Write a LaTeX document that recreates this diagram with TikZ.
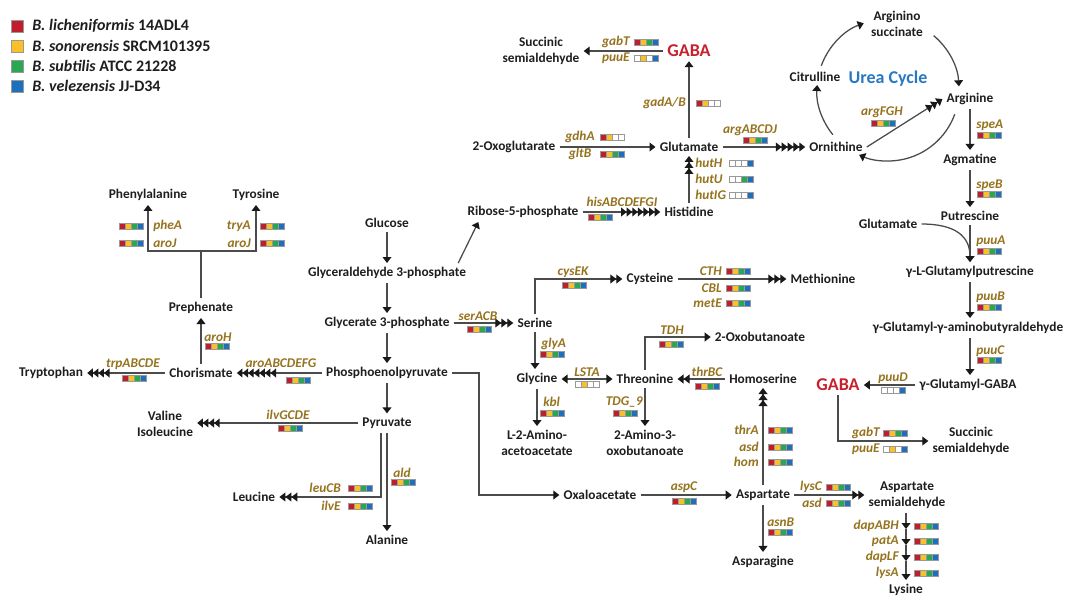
\documentclass[tikz,border=0pt]{standalone}
\usepackage{fontspec}
\setmainfont{Carlito}
\usetikzlibrary{arrows.meta,calc}
\definecolor{cR}{RGB}{192,30,45}
\definecolor{cY}{RGB}{250,192,40}
\definecolor{cG}{RGB}{40,168,80}
\definecolor{cB}{RGB}{28,112,190}
\definecolor{txt}{RGB}{30,30,30}
\definecolor{genec}{RGB}{150,115,30}
\definecolor{gabac}{RGB}{200,32,45}
\definecolor{ureac}{RGB}{40,120,195}
\definecolor{linec}{RGB}{75,75,75}
\definecolor{tipc}{RGB}{25,25,25}
\tikzset{
  boxc/.style={draw=gray!80, line width=0.4pt},
  pics/gb/.style n args={4}{code={
    \draw[boxc, fill=#1] (0,-3.1) rectangle (6,3.1);
    \draw[boxc, fill=#2] (6,-3.1) rectangle (12,3.1);
    \draw[boxc, fill=#3] (12,-3.1) rectangle (18,3.1);
    \draw[boxc, fill=#4] (18,-3.1) rectangle (24,3.1);
  }},
}
\begin{document}
\begin{tikzpicture}[x=0.75pt,y=-0.75pt,
  mn/.style={font=\bfseries\fontsize{10}{12}\selectfont, text=txt, inner sep=3pt, align=center},
  ga/.style={font=\bfseries\fontsize{13.5}{15}\selectfont, text=gabac, inner sep=3pt},
  gene/.style={font=\bfseries\itshape\fontsize{10}{12}\selectfont, text=genec, inner sep=0pt},
  leg/.style={font=\bfseries\fontsize{12}{14}\selectfont, text=txt, inner sep=0pt, anchor=west},
  con/.style={draw=linec, line width=0.95pt},
  a1/.style={con,-{Triangle[length=4.5pt,width=6.6pt,sep=0pt,color=tipc]}},
  a2/.style={con,-{Triangle[length=4.5pt,width=6.6pt,sep=0pt,color=tipc]Triangle[length=4.5pt,width=6.6pt,sep=0pt,color=tipc]}},
  a3/.style={con,-{Triangle[length=4.5pt,width=6.6pt,sep=0pt,color=tipc]Triangle[length=4.5pt,width=6.6pt,sep=0pt,color=tipc]Triangle[length=4.5pt,width=6.6pt,sep=0pt,color=tipc]}},
  a4/.style={con,-{Triangle[length=4.2pt,width=6.6pt,sep=0pt,color=tipc]Triangle[length=4.2pt,width=6.6pt,sep=0pt,color=tipc]Triangle[length=4.2pt,width=6.6pt,sep=0pt,color=tipc]Triangle[length=4.2pt,width=6.6pt,sep=0pt,color=tipc]}},
  a5/.style={con,-{Triangle[length=4.4pt,width=6.6pt,sep=0pt,color=tipc]Triangle[length=4.4pt,width=6.6pt,sep=0pt,color=tipc]Triangle[length=4.4pt,width=6.6pt,sep=0pt,color=tipc]Triangle[length=4.4pt,width=6.6pt,sep=0pt,color=tipc]Triangle[length=4.4pt,width=6.6pt,sep=0pt,color=tipc]}},
  a7/.style={con,-{Triangle[length=4.2pt,width=6.6pt,sep=0pt,color=tipc]Triangle[length=4.2pt,width=6.6pt,sep=0pt,color=tipc]Triangle[length=4.2pt,width=6.6pt,sep=0pt,color=tipc]Triangle[length=4.2pt,width=6.6pt,sep=0pt,color=tipc]Triangle[length=4.2pt,width=6.6pt,sep=0pt,color=tipc]Triangle[length=4.2pt,width=6.6pt,sep=0pt,color=tipc]Triangle[length=4.2pt,width=6.6pt,sep=0pt,color=tipc]}},
  ab/.style={con,{Triangle[length=4.5pt,width=6.6pt,color=tipc]}-{Triangle[length=4.5pt,width=6.6pt,color=tipc]}},
]
\fill[white] (0,0) rectangle (1077,597);
\useasboundingbox (0,0) rectangle (1077,597);

% legend
\draw[boxc, fill=cR] (11,20) rectangle (23,32);
\draw[boxc, fill=cY] (11,40) rectangle (23,52);
\draw[boxc, fill=cG] (11,60) rectangle (23,72);
\draw[boxc, fill=cB] (11,80) rectangle (23,92);
\node[leg] (lg1) at (32,26) {\textit{B. licheniformis} 14ADL4};
\node[leg] (lg2) at (32,46) {\textit{B. sonorensis} SRCM101395};
\node[leg] (lg3) at (32,66) {\textit{B. subtilis} ATCC 21228};
\node[leg] (lg4) at (32,86) {\textit{B. velezensis} JJ-D34};

% main nodes
\node[mn] (sucA) at (541,51) {Succinic\\semialdehyde};
\node[ga] (gabaA) at (689,51) {GABA};
\node[mn] (oxo) at (514,147) {2-Oxoglutarate};
\node[mn] (gluA) at (689,147) {Glutamate};
\node[mn] (orn) at (836,147) {Ornithine};
\node[mn] (cit) at (815,77) {Citrulline};
\node[mn] (asu) at (897,24) {Arginino\\succinate};
\node[font=\bfseries\fontsize{13.5}{15}\selectfont, text=ureac] (urea) at (888,79) {Urea Cycle};
\node[mn] (arg) at (970,99) {Arginine};
\node[mn] (agm) at (970,160) {Agmatine};
\node[mn] (put) at (970,216) {Putrescine};
\node[mn] (gluB) at (888,224) {Glutamate};
\node[mn] (glp) at (970,272) {γ-L-Glutamylputrescine};
\node[mn] (gga) at (968,328) {γ-Glutamyl-γ-aminobutyraldehyde};
\node[mn] (ggaba) at (968,385) {γ-Glutamyl-GABA};
\node[ga] (gabaB) at (838,385) {GABA};
\node[mn] (sucB) at (971,441) {Succinic\\semialdehyde};
\node[mn] (ribo) at (523,212) {Ribose-5-phosphate};
\node[mn] (his) at (689,212) {Histidine};
\node[mn] (glc) at (387,223) {Glucose};
\node[mn] (g3p) at (387,273) {Glyceraldehyde 3-phosphate};
\node[mn] (gly3p) at (387,323) {Glycerate 3-phosphate};
\node[mn] (pep) at (387,373) {Phosphoenolpyruvate};
\node[mn] (pyr) at (387,423) {Pyruvate};
\node[mn] (ala) at (387,540) {Alanine};
\node[mn] (leu) at (254,497) {Leucine};
\node[mn] (val) at (165,424) {Valine\\Isoleucine};
\node[mn] (cho) at (201,373) {Chorismate};
\node[mn] (trp) at (51,373) {Tryptophan};
\node[mn] (pre) at (201,308) {Prephenate};
\node[mn] (phe) at (148,195) {Phenylalanine};
\node[mn] (tyr) at (256,195) {Tyrosine};
\node[mn] (ser) at (535,323) {Serine};
\node[mn] (cys) at (650,279) {Cysteine};
\node[mn] (met) at (823,279) {Methionine};
\node[mn] (glyc) at (537,379) {Glycine};
\node[mn] (thr) at (645,379) {Threonine};
\node[mn] (hom) at (763,379) {Homoserine};
\node[mn] (oxb) at (760,337) {2-Oxobutanoate};
\node[mn] (l2a) at (537,443) {L-2-Amino-\\acetoacetate};
\node[mn] (a3o) at (645,443) {2-Amino-3-\\oxobutanoate};
\node[mn] (oaa) at (600,495) {Oxaloacetate};
\node[mn] (asp) at (763,495) {Aspartate};
\node[mn] (asn) at (763,562) {Asparagine};
\node[mn] (asa) at (907,495) {Aspartate\\semialdehyde};
\node[mn] (lys) at (906,590) {Lysine};

% gene labels and boxes
\node[gene,anchor=east] (g1) at (630,42) {gabT}; \pic at (634,42) {gb={cR}{cY}{cG}{cB}};
\node[gene,anchor=east] (g2) at (630,58) {puuE}; \pic at (634,58) {gb={white}{cY}{white}{cB}};
\node[gene,anchor=east] (g3) at (686,103) {gadA/B}; \pic at (696,103) {gb={cR}{cY}{white}{white}};
\node[gene] (g4) at (580,137) {gdhA}; \pic at (600,137) {gb={cR}{cY}{white}{white}};
\node[gene] (g5) at (580,154) {gltB}; \pic at (600,154) {gb={cR}{cY}{cG}{cB}};
\node[gene] (g6) at (750,130) {argABCDJ}; \pic at (743,140) {gb={cR}{cY}{cG}{cB}};
\node[gene,anchor=west] (g7) at (695,163) {hutH}; \pic at (729,163) {gb={white}{white}{white}{cB}};
\node[gene,anchor=west] (g8) at (695,179) {hutU}; \pic at (729,179) {gb={white}{white}{cG}{cB}};
\node[gene,anchor=west] (g9) at (695,195) {hutIG}; \pic at (729,195) {gb={white}{white}{white}{cB}};
\node[gene] (g10) at (622,202) {hisABCDEFGI}; \pic at (588,217) {gb={cR}{cY}{cG}{cB}};
\node[gene] (g11) at (882,112) {argFGH}; \pic at (871,123) {gb={cR}{cY}{cG}{cB}};
\node[gene,anchor=west] (g12) at (976,125) {speA}; \pic at (977,135) {gb={cR}{cY}{cG}{cB}};
\node[gene,anchor=west] (g13) at (976,185) {speB}; \pic at (977,194) {gb={cR}{cY}{cG}{cB}};
\node[gene,anchor=west] (g14) at (976,241) {puuA}; \pic at (977,251) {gb={cR}{cY}{cG}{cB}};
\node[gene,anchor=west] (g15) at (976,297) {puuB}; \pic at (977,307) {gb={cR}{cY}{cG}{cB}};
\node[gene,anchor=west] (g16) at (976,351) {puuC}; \pic at (977,360) {gb={cR}{cY}{cG}{cB}};
\node[gene] (g17) at (893,378) {puuD}; \pic at (881,390) {gb={white}{white}{white}{cB}};
\node[gene,anchor=east] (g18) at (880,433) {gabT}; \pic at (883,433) {gb={cR}{cY}{cG}{cB}};
\node[gene,anchor=east] (g19) at (880,449) {puuE}; \pic at (883,449) {gb={white}{cY}{white}{cB}};
\node[gene,anchor=west] (g20) at (153,226) {pheA}; \pic at (119,226) {gb={cR}{cY}{cG}{cB}};
\node[gene,anchor=west] (g21) at (153,243) {aroJ}; \pic at (119,243) {gb={cR}{cY}{cG}{cB}};
\node[gene,anchor=east] (g22) at (251,226) {tryA}; \pic at (260,226) {gb={cR}{cY}{cG}{cB}};
\node[gene,anchor=east] (g23) at (251,243) {aroJ}; \pic at (260,243) {gb={cR}{cY}{cG}{cB}};
\node[gene,anchor=west] (g24) at (204,337) {aroH}; \pic at (205,346) {gb={cR}{cY}{cG}{cB}};
\node[gene] (g25) at (133,364) {trpABCDE}; \pic at (122,378) {gb={cR}{cY}{cG}{cB}};
\node[gene] (g26) at (281,363) {aroABCDEFG}; \pic at (286,380) {gb={cR}{cY}{cG}{cB}};
\node[gene] (g27) at (288,415) {ilvGCDE}; \pic at (278,428) {gb={cR}{cY}{cG}{cB}};
\node[gene,anchor=east] (g28) at (341,488) {leuCB}; \pic at (348,488) {gb={cR}{cY}{cG}{cB}};
\node[gene,anchor=east] (g29) at (341,506) {ilvE}; \pic at (348,506) {gb={cR}{cY}{cG}{cB}};
\node[gene] (g30) at (402,473) {ald}; \pic at (391,482) {gb={cR}{cY}{cG}{cB}};
\node[gene] (g31) at (478,316) {serACB}; \pic at (467,329) {gb={cR}{cY}{cG}{cB}};
\node[gene] (g32) at (573,272) {cysEK}; \pic at (562,285) {gb={cR}{cY}{cG}{cB}};
\node[gene,anchor=east] (g33) at (722,271) {CTH}; \pic at (726,271) {gb={cR}{cY}{cG}{cB}};
\node[gene,anchor=east] (g34) at (722,288) {CBL}; \pic at (726,288) {gb={cR}{cY}{cG}{cB}};
\node[gene,anchor=east] (g35) at (722,303) {metE}; \pic at (726,303) {gb={cR}{cY}{cG}{cB}};
\node[gene,anchor=west] (g36) at (541,344) {glyA}; \pic at (540,354) {gb={cR}{cY}{cG}{cB}};
\node[gene] (g37) at (672,330) {TDH}; \pic at (659,344) {gb={cR}{cY}{cG}{cB}};
\node[gene] (g38) at (587,372) {LSTA}; \pic at (575,384) {gb={white}{cY}{white}{white}};
\node[gene] (g39) at (707,372) {thrBC}; \pic at (695,386) {gb={cR}{cY}{cG}{cB}};
\node[gene,anchor=east] (g40) at (643,402) {TDG\_9}; \pic at (613,413) {gb={cR}{cY}{cG}{cB}};
\node[gene,anchor=west] (g41) at (543,402) {kbl}; \pic at (540,413) {gb={cR}{cY}{cG}{cB}};
\node[gene] (g42) at (684,487) {aspC}; \pic at (672,501) {gb={cR}{cY}{cG}{cB}};
\node[gene,anchor=east] (g43) at (759,430) {thrA}; \pic at (768,430) {gb={cR}{cY}{cG}{cB}};
\node[gene,anchor=east] (g44) at (759,447) {asd}; \pic at (768,447) {gb={cR}{cY}{cG}{cB}};
\node[gene,anchor=east] (g45) at (759,462) {hom}; \pic at (768,462) {gb={cR}{cY}{cG}{cB}};
\node[gene,anchor=west] (g46) at (767,522) {asnB}; \pic at (768,532) {gb={cR}{cY}{cG}{cB}};
\node[gene,anchor=east] (g47) at (822,487) {lysC}; \pic at (826,487) {gb={cR}{cY}{cG}{cB}};
\node[gene,anchor=east] (g48) at (822,503) {asd}; \pic at (826,503) {gb={cR}{cY}{cG}{cB}};
\node[gene,anchor=east] (g49) at (899,526) {dapABH}; \pic at (914,526) {gb={cR}{cY}{cG}{cB}};
\node[gene,anchor=east] (g50) at (899,541) {patA}; \pic at (914,541) {gb={cR}{cY}{cG}{cB}};
\node[gene,anchor=east] (g51) at (899,557) {dapLF}; \pic at (914,557) {gb={cR}{cY}{cG}{cB}};
\node[gene,anchor=east] (g52) at (899,573) {lysA}; \pic at (914,573) {gb={cR}{cY}{cG}{cB}};

% connectors
\draw[a1] (gabaA) -- (sucA);
\draw[a1] (gluA) -- (gabaA);
\draw[a1] (oxo) -- (gluA);
\draw[a5] (gluA) -- (orn);
\draw[a3] (orn.east) -- (arg.west);
\coordinate (uc) at (888,90);
\draw[a1] ($(uc)+(200:71)$) arc[start angle=200,end angle=250,radius=71];
\draw[a1] ($(uc)+(310:71)$) arc[start angle=310,end angle=357,radius=71];
\draw[a1] ($(uc)+(20:71)$) arc[start angle=20,end angle=114,radius=71];
\draw[a1] ($(uc)+(141:71)$) arc[start angle=141,end angle=184,radius=71];
\draw[a1] (arg) -- (agm);
\draw[a1] (agm) -- (put);
\draw[a1] (put) -- (glp);
\draw[a1] (gluB.east) .. controls (955,224) and (970,236) .. (glp.north);
\draw[a1] (glp) -- (glp.south |- gga.north);
\draw[a1] (glp.south |- gga.south) -- (glp.south |- ggaba.north);
\draw[a1] (ggaba) -- (gabaB);
\draw[a1] (gabaB.south) |- (sucB.west);
\draw[a1] (glc) -- (g3p);
\draw[a1] (g3p) -- (gly3p);
\draw[a1] (gly3p) -- (pep);
\draw[a1] (pep) -- (pyr);
\draw[a1] ($(g3p.north east)+(-12,0)$) -- ($(ribo.south west)+(15,0)$);
\draw[a7] (ribo) -- (his);
\draw[a3] (his) -- (gluA);
\draw[a3] (gly3p) -- (ser);
\draw[a2] (ser.north) |- (cys.west);
\draw[a3] (cys) -- (met);
\draw[a1] (ser.south) -- (ser.south |- glyc.north);
\draw[ab] (glyc) -- (thr);
\draw[a2] (hom) -- (thr);
\draw[a1] (thr.north) |- (oxb.west);
\draw[a1] (thr) -- (a3o);
\draw[a1] (glyc) -- (l2a);
\draw[a1] (pep.east) -- ++(27,0) |- (oaa.west);
\draw[a1] (oaa) -- (asp);
\draw[a3] (asp) -- (hom);
\draw[a1] (asp) -- (asn);
\draw[a2] (asp) -- (asp -| asa.west);
\coordinate (l1) at (906,529);
\coordinate (l2) at (906,545);
\coordinate (l3) at (906,561);
\draw[a1] (asa.south -| lys) -- (l1);
\draw[a1] (l1) -- (l2);
\draw[a1] (l2) -- (l3);
\draw[a1] (l3) -- (lys.north);
\draw[a4] (pyr.west) -- (pyr.west -| val.east);
\draw[a3] ($(pyr.south)+(-6,0)$) |- (leu.east);
\draw[a1] (pyr) -- (ala);
\draw[a7] (pep) -- (cho);
\draw[a4] (cho) -- (trp);
\draw[a1] (cho) -- (pre);
\coordinate (br) at (201,251);
\draw[con] (pre.north) -- (br);
\draw[a1] (br) -| (phe.south);
\draw[a1] (br) -| (tyr.south);
\end{tikzpicture}
\end{document}
